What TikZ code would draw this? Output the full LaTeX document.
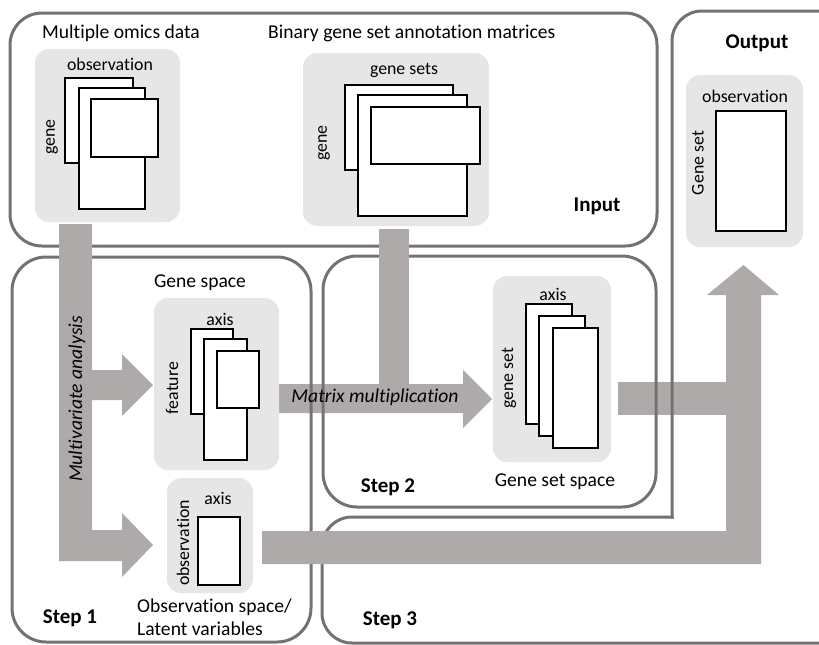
\documentclass[tikz,border=0pt]{standalone}
\usepackage{fontspec}
\setmainfont{Carlito}[Ligatures=NoCommon]
\definecolor{framegray}{HTML}{767171}
\definecolor{arrowgray}{HTML}{AEAAAA}
\definecolor{panelgray}{HTML}{E7E6E6}

\begin{document}
\begin{tikzpicture}[x=1pt,y=-1pt,
  frame/.style={draw=framegray, line width=3pt},
  panel/.style={fill=panelgray, rounded corners=14pt},
  mat/.style={draw=black, fill=white, line width=2pt},
  flow/.style={fill=arrowgray},
  title/.style={font=\fontsize{19.6}{22}\selectfont, inner sep=0pt},
  lab/.style={font=\fontsize{17.8}{20}\selectfont, inner sep=0pt},
  steplabel/.style={font=\fontsize{21}{24}\selectfont\bfseries, inner sep=0pt},
  flowtext/.style={font=\fontsize{19.6}{22}\selectfont\itshape, inner sep=0pt}]

\useasboundingbox (0,0) rectangle (819,645);

% ---- horizontal flows that run under the frame lines
\fill[flow] (279,384) -- (463,384) -- (463,370) -- (492,399) -- (463,428)
  -- (463,413) -- (279,413) -- cycle;
\fill[flow] (618,382) rectangle (726,415);

% ---- frames
\draw[frame, rounded corners=32pt] (10,13) rectangle (657,246);
\draw[frame, rounded corners=34pt] (12,257) rectangle (311,642);
\draw[frame, rounded corners=34pt] (323,256) rectangle (656,507);
\draw[frame, line cap=rect, rounded corners=30pt]
  (672,517) -- (322,517) -- (322,643) -- (860,643);
\draw[frame, line cap=rect, rounded corners=30pt]
  (672,517) -- (672,11) -- (860,11);

% ---- flows drawn over the frame lines
\fill[flow] (59,224) -- (92,224) -- (92,370) -- (122,370) -- (122,354)
  -- (153,385) -- (122,416) -- (122,400) -- (92,400) -- (92,530)
  -- (122,530) -- (122,513) -- (153,545) -- (122,577) -- (122,561)
  -- (59,561) -- cycle;
\fill[flow] (379,229) rectangle (409,386);
\fill[flow] (262,531) -- (726,531) -- (726,295) -- (707,295) -- (743.5,265)
  -- (779,295) -- (761,295) -- (761,564) -- (262,564) -- cycle;

\node[flowtext, rotate=90] (mva) at (77,399) {Multivariate analysis};
\node[flowtext] (mm) at (375,397) {Matrix multiplication};

% ---- input: omics data
\node[title, anchor=west] (omics) at (42,33) {Multiple omics data};
\fill[panel] (35,49) rectangle (180,222);
\node[lab] (omicsobs) at (110,64) {observation};
\node[lab, rotate=90] (omicsgene) at (52,137) {gene};
\draw[mat] (65,78) rectangle (133,163);
\draw[mat] (79,88) rectangle (145,209);
\draw[mat] (91,99) rectangle (158,157);

% ---- input: annotation matrices
\node[title, anchor=west] (annot) at (268,33) {Binary gene set annotation matrices};
\fill[panel] (303,53) rectangle (489,226);
\node[lab] (annotsets) at (404,70) {gene sets};
\node[lab, rotate=90] (annotgene) at (324,143) {gene};
\draw[mat] (345,85) rectangle (453,170);
\draw[mat] (358,95) rectangle (467,216);
\draw[mat] (371,107) rectangle (480,164);
\node[steplabel] (input) at (597,206) {Input};

% ---- output
\node[steplabel] (output) at (757,43) {Output};
\fill[panel] (686,75) rectangle (803,247);
\node[lab] (outobs) at (745,96) {observation};
\node[lab, rotate=90] (outgs) at (698,163) {Gene set};
\draw[mat] (716,111) rectangle (786,231);

% ---- step 1: gene space
\node[title] (genespace) at (200,283) {Gene space};
\fill[panel] (154,298) rectangle (279,470);
\node[lab] (gsaxis) at (220,319) {axis};
\node[lab, rotate=90] (gsfeat) at (172,388) {feature};
\draw[mat] (191,329) rectangle (233,414);
\draw[mat] (204,339) rectangle (247,460);
\draw[mat] (217,351) rectangle (259,408);

% ---- step 1: observation space
\fill[panel] (167,478) rectangle (253,593);
\node[lab] (obsaxis) at (218,498) {axis};
\node[lab, rotate=90] (obsobs) at (183,543) {observation};
\draw[mat] (198,517) rectangle (240,585);
\node[title, anchor=west] (obsspace) at (137,607) {Observation space/};
\node[title, anchor=west] (latent) at (137,629) {Latent variables};
\node[steplabel] (step1) at (70,618) {Step 1};

% ---- step 2: gene set space
\fill[panel] (493,276) rectangle (611,462);
\node[lab] (gssaxis) at (553,294) {axis};
\node[lab, rotate=90] (gssgs) at (509,378) {gene set};
\draw[mat] (526,304) rectangle (572,424);
\draw[mat] (539,316) rectangle (585,436);
\draw[mat] (553,328) rectangle (598,448);
\node[title] (gssspace) at (555,482) {Gene set space};
\node[steplabel] (step2) at (388,487) {Step 2};

% ---- step 3
\node[steplabel] (step3) at (390,620) {Step 3};

\end{tikzpicture}
\end{document}
